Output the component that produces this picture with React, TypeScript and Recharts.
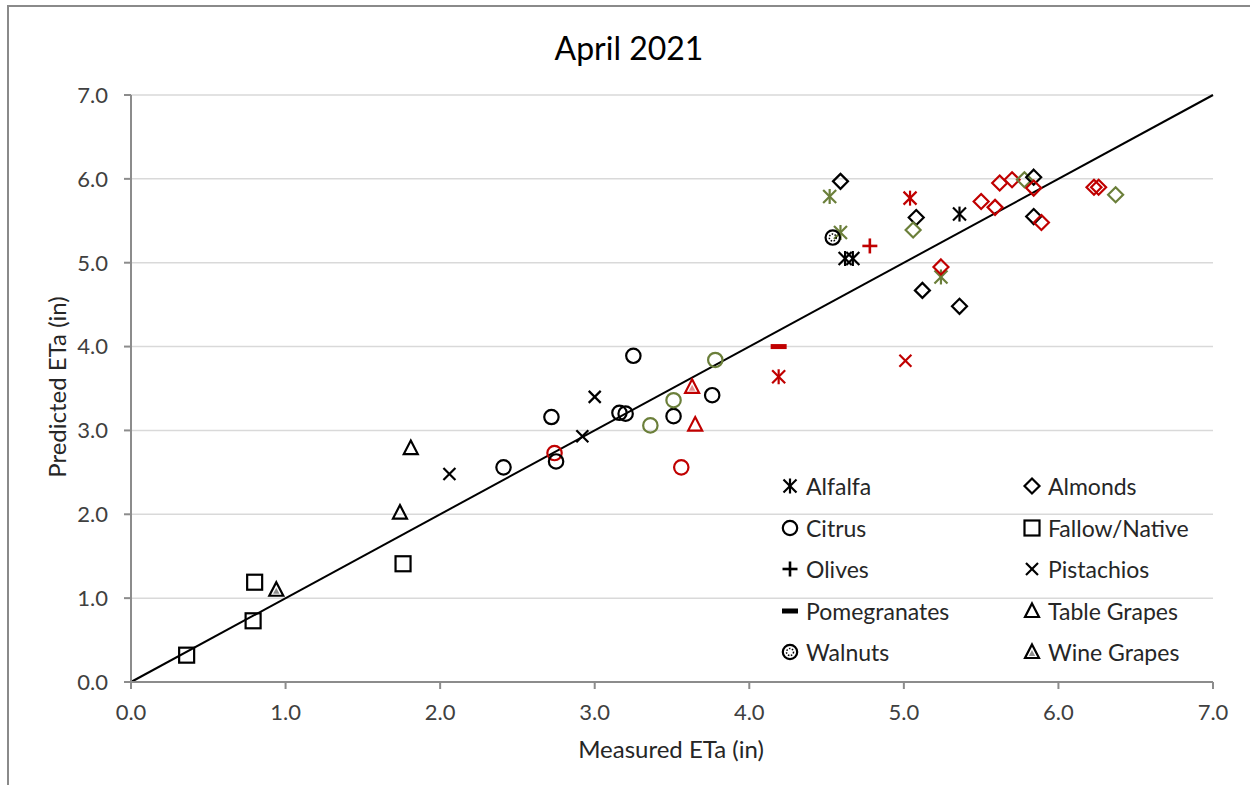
import React from "react";
import { ScatterChart, Scatter, XAxis, YAxis, CartesianGrid, ReferenceLine } from "recharts";

type Pt = { x: number; y: number; c: "k" | "r" | "g" };

// colour groups as used in the source figure
const COLORS: Record<string, string> = { k: "#000000", r: "#C00000", g: "#6B7F3A" };

const alfalfa: Pt[] = [
  { x: 5.36, y: 5.58, c: "k" },
  { x: 4.62, y: 5.05, c: "k" },
  { x: 4.67, y: 5.05, c: "k" },
  { x: 4.52, y: 5.79, c: "g" },
  { x: 4.59, y: 5.36, c: "g" },
  { x: 5.04, y: 5.77, c: "r" },
  { x: 5.24, y: 4.83, c: "g" },
  { x: 4.19, y: 3.64, c: "r" },
];

const almonds: Pt[] = [
  { x: 4.59, y: 5.97, c: "k" },
  { x: 5.08, y: 5.54, c: "k" },
  { x: 5.06, y: 5.39, c: "g" },
  { x: 5.24, y: 4.95, c: "r" },
  { x: 5.12, y: 4.67, c: "k" },
  { x: 5.36, y: 4.48, c: "k" },
  { x: 5.5, y: 5.73, c: "r" },
  { x: 5.59, y: 5.66, c: "r" },
  { x: 5.62, y: 5.95, c: "r" },
  { x: 5.7, y: 5.99, c: "r" },
  { x: 5.78, y: 5.99, c: "g" },
  { x: 5.84, y: 6.02, c: "k" },
  { x: 5.84, y: 5.89, c: "r" },
  { x: 5.84, y: 5.55, c: "k" },
  { x: 5.89, y: 5.48, c: "r" },
  { x: 6.23, y: 5.9, c: "r" },
  { x: 6.26, y: 5.9, c: "r" },
  { x: 6.37, y: 5.81, c: "g" },
];

const citrus: Pt[] = [
  { x: 3.25, y: 3.89, c: "k" },
  { x: 2.72, y: 3.16, c: "k" },
  { x: 3.16, y: 3.21, c: "k" },
  { x: 3.2, y: 3.2, c: "k" },
  { x: 3.51, y: 3.17, c: "k" },
  { x: 3.76, y: 3.42, c: "k" },
  { x: 3.78, y: 3.84, c: "g" },
  { x: 3.51, y: 3.36, c: "g" },
  { x: 3.36, y: 3.06, c: "g" },
  { x: 2.74, y: 2.73, c: "r" },
  { x: 2.75, y: 2.63, c: "k" },
  { x: 3.56, y: 2.56, c: "r" },
  { x: 2.41, y: 2.56, c: "k" },
];

const fallow: Pt[] = [
  { x: 0.8, y: 1.19, c: "k" },
  { x: 0.79, y: 0.73, c: "k" },
  { x: 1.76, y: 1.41, c: "k" },
  { x: 0.36, y: 0.32, c: "k" },
];

const olives: Pt[] = [{ x: 4.78, y: 5.2, c: "r" }];

const pistachios: Pt[] = [
  { x: 2.06, y: 2.48, c: "k" },
  { x: 3.0, y: 3.4, c: "k" },
  { x: 2.92, y: 2.93, c: "k" },
  { x: 5.01, y: 3.83, c: "r" },
];

const pomegranates: Pt[] = [{ x: 4.19, y: 4.0, c: "r" }];

const tableGrapes: Pt[] = [
  { x: 1.81, y: 2.79, c: "k" },
  { x: 1.74, y: 2.02, c: "k" },
  { x: 3.65, y: 3.07, c: "r" },
];

const walnuts: Pt[] = [{ x: 4.54, y: 5.3, c: "k" }];

const wineGrapes: Pt[] = [
  { x: 0.94, y: 1.1, c: "k" },
  { x: 3.63, y: 3.52, c: "r" },
];

const axisTicks = [0, 1, 2, 3, 4, 5, 6, 7];

type Kind = "star" | "diamond" | "circle" | "square" | "plus" | "cross" | "dash" | "triangle" | "walnut" | "wine";

const series: { name: string; kind: Kind; data: Pt[] }[] = [
  { name: "Alfalfa", kind: "star", data: alfalfa },
  { name: "Almonds", kind: "diamond", data: almonds },
  { name: "Citrus", kind: "circle", data: citrus },
  { name: "Fallow/Native", kind: "square", data: fallow },
  { name: "Olives", kind: "plus", data: olives },
  { name: "Pistachios", kind: "cross", data: pistachios },
  { name: "Pomegranates", kind: "dash", data: pomegranates },
  { name: "Table Grapes", kind: "triangle", data: tableGrapes },
  { name: "Walnuts", kind: "walnut", data: walnuts },
  { name: "Wine Grapes", kind: "wine", data: wineGrapes },
];

function Marker({ kind, cx, cy, color }: { kind: Kind; cx: number; cy: number; color: string }) {
  const sw = 2.2;
  switch (kind) {
    case "star": {
      const s = 6.5;
      return (
        <g stroke={color} strokeWidth={sw}>
          <line x1={cx - s} y1={cy - s} x2={cx + s} y2={cy + s} />
          <line x1={cx - s} y1={cy + s} x2={cx + s} y2={cy - s} />
          <line x1={cx} y1={cy - s - 1} x2={cx} y2={cy + s + 1} />
        </g>
      );
    }
    case "diamond": {
      const s = 7.5;
      return (
        <polygon
          points={`${cx},${cy - s} ${cx + s},${cy} ${cx},${cy + s} ${cx - s},${cy}`}
          fill="none"
          stroke={color}
          strokeWidth={sw}
        />
      );
    }
    case "circle":
      return <circle cx={cx} cy={cy} r={7.2} fill="none" stroke={color} strokeWidth={sw} />;
    case "square":
      return <rect x={cx - 7.5} y={cy - 7.5} width={15} height={15} fill="none" stroke={color} strokeWidth={sw} />;
    case "plus": {
      const s = 7.5;
      return (
        <g stroke={color} strokeWidth={2.6}>
          <line x1={cx - s} y1={cy} x2={cx + s} y2={cy} />
          <line x1={cx} y1={cy - s} x2={cx} y2={cy + s} />
        </g>
      );
    }
    case "cross": {
      const s = 6;
      return (
        <g stroke={color} strokeWidth={sw}>
          <line x1={cx - s} y1={cy - s} x2={cx + s} y2={cy + s} />
          <line x1={cx - s} y1={cy + s} x2={cx + s} y2={cy - s} />
        </g>
      );
    }
    case "dash":
      return <rect x={cx - 8} y={cy - 2.5} width={16} height={5} fill={color} />;
    case "triangle":
      return (
        <polygon
          points={`${cx},${cy - 7.5} ${cx + 7},${cy + 6} ${cx - 7},${cy + 6}`}
          fill="none"
          stroke={color}
          strokeWidth={sw}
          strokeLinejoin="miter"
        />
      );
    case "wine":
      return (
        <g>
          <polygon
            points={`${cx},${cy - 7.5} ${cx + 7},${cy + 6} ${cx - 7},${cy + 6}`}
            fill="none"
            stroke={color}
            strokeWidth={sw}
          />
          <polygon
            points={`${cx},${cy - 2} ${cx + 3.2},${cy + 4} ${cx - 3.2},${cy + 4}`}
            fill={color}
            opacity={0.45}
          />
        </g>
      );
    case "walnut":
      return (
        <g>
          <circle cx={cx} cy={cy} r={7.2} fill="none" stroke={color} strokeWidth={sw} />
          <circle cx={cx} cy={cy} r={3.5} fill="none" stroke={color} strokeWidth={1.5} strokeDasharray="1.5 1.5" />
        </g>
      );
  }
  return null;
}

function LegendItem({ kind, name, left, top }: { kind: Kind; name: string; left: number; top: number }) {
  return (
    <div
      style={{
        position: "absolute",
        left,
        top: top - 16,
        height: 32,
        display: "flex",
        alignItems: "center",
        whiteSpace: "nowrap",
      }}
    >
      <svg width={20} height={20} style={{ marginRight: 6 }}>
        <Marker kind={kind} cx={10} cy={10} color="#000" />
      </svg>
      <span>{name}</span>
    </div>
  );
}

const FONT = "Lato, 'Open Sans', sans-serif";

export default function App() {
  const legendRows = [486, 528, 569, 611, 652];
  return (
    <div style={{ position: "absolute", left: 0, top: 0, width: 1250, height: 785, background: "#fff", fontFamily: FONT }}>
      <div
        style={{
          position: "absolute",
          left: 7,
          top: 5,
          width: 1243,
          height: 780,
          borderLeft: "2px solid #8a8a8a",
          borderTop: "2px solid #8a8a8a",
          boxSizing: "border-box",
        }}
      />
      <div style={{ position: "absolute", left: 0, top: 0 }}>
        <ScatterChart width={1250} height={785} margin={{ top: 95, right: 37, bottom: 63, left: 71 }}>
          <CartesianGrid vertical={false} stroke="#d9d9d9" strokeWidth={1.5} />
          <XAxis
            type="number"
            dataKey="x"
            domain={[0, 7]}
            ticks={axisTicks}
            tickFormatter={(v: number) => v.toFixed(1)}
            height={40}
            axisLine={{ stroke: "#8c8c8c", strokeWidth: 2 }}
            tickLine={{ stroke: "#8c8c8c", strokeWidth: 2 }}
            tickSize={7}
            tickMargin={15}
            tick={{ fill: "#404040", fontSize: 22, fontFamily: FONT }}
            allowDataOverflow
          />
          <YAxis
            type="number"
            dataKey="y"
            domain={[0, 7]}
            ticks={axisTicks}
            tickFormatter={(v: number) => v.toFixed(1)}
            width={60}
            axisLine={{ stroke: "#8c8c8c", strokeWidth: 2 }}
            tickLine={{ stroke: "#8c8c8c", strokeWidth: 2 }}
            tickSize={7}
            tickMargin={16}
            tick={{ fill: "#404040", fontSize: 22, fontFamily: FONT }}
            allowDataOverflow
          />
          <ReferenceLine
            segment={[
              { x: 0, y: 0 },
              { x: 7, y: 7 },
            ]}
            stroke="#000"
            strokeWidth={2}
          />
          {series.map((s) => (
            <Scatter
              key={s.name}
              name={s.name}
              data={s.data}
              isAnimationActive={false}
              shape={(p: any) => <Marker kind={s.kind} cx={p.cx} cy={p.cy} color={COLORS[p.payload.c]} />}
            />
          ))}
        </ScatterChart>
      </div>
      <div
        style={{
          position: "absolute",
          left: 629,
          top: 47,
          transform: "translate(-50%, -50%)",
          whiteSpace: "nowrap",
          fontSize: 32,
          color: "#000",
        }}
      >
        April 2021
      </div>
      <div
        style={{
          position: "absolute",
          left: 671,
          top: 748,
          transform: "translate(-50%, -50%)",
          whiteSpace: "nowrap",
          fontSize: 24,
          color: "#262626",
        }}
      >
        Measured ETa (in)
      </div>
      <div
        style={{
          position: "absolute",
          left: 56,
          top: 387,
          transform: "translate(-50%, -50%) rotate(-90deg)",
          whiteSpace: "nowrap",
          fontSize: 24,
          color: "#262626",
        }}
      >
        Predicted ETa (in)
      </div>
      <div style={{ position: "absolute", left: 0, top: 0, fontSize: 23, color: "#262626" }}>
        {series.map((s, i) => (
          <LegendItem
            key={s.name}
            kind={s.kind}
            name={s.name}
            left={i % 2 === 0 ? 780 : 1022}
            top={legendRows[Math.floor(i / 2)]}
          />
        ))}
      </div>
    </div>
  );
}
